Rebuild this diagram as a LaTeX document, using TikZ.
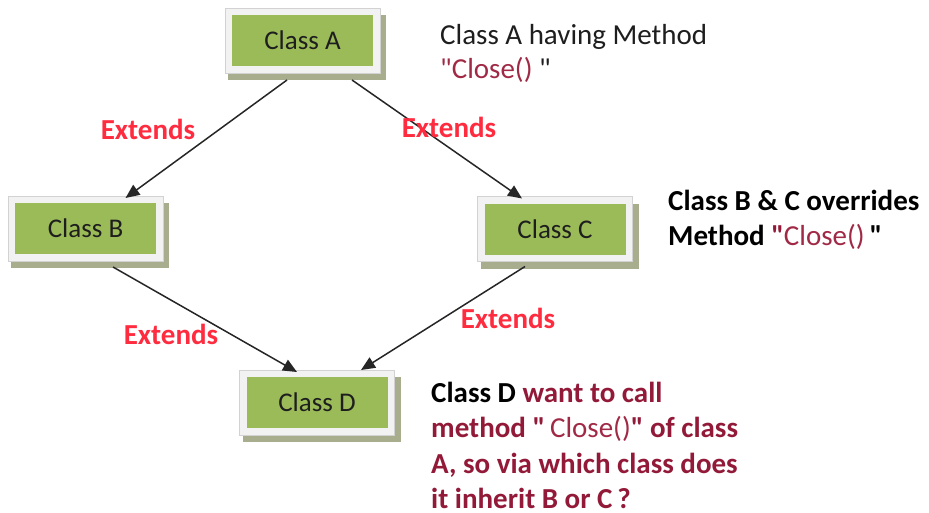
\documentclass[tikz,border=0pt]{standalone}
\usepackage{fontspec}
\setmainfont{Carlito}[Ligatures=TeXOff]
\usetikzlibrary{calc,backgrounds,arrows.meta}
\definecolor{boxgreen}{HTML}{9BBB59}
\definecolor{boxrim}{HTML}{F2F2F2}
\definecolor{rimline}{HTML}{D2D2D2}
\definecolor{shadowc}{HTML}{A8AD8E}
\definecolor{extred}{HTML}{FF2B3F}
\definecolor{darkred}{HTML}{921A38}
\definecolor{closec}{HTML}{A02A46}
\definecolor{boxtext}{HTML}{1E1E1E}
\begin{document}
\begin{tikzpicture}[x=1pt,y=-1pt,
  classbox/.style={rectangle, fill=boxgreen, draw=boxrim, line width=7pt,
    minimum width=148pt, minimum height=58pt, inner sep=0pt,
    font=\fontsize{27}{32}\selectfont, text=boxtext},
  extlabel/.style={font=\bfseries\fontsize{29}{34}\selectfont, text=extred, inner sep=0pt},
  note/.style={anchor=north west, align=left, inner sep=0pt},
  inh/.style={draw=black!85, line width=1.5pt, -{Triangle[length=14pt,width=12pt]}}]
\useasboundingbox (0,0) rectangle (929,512);

\node[classbox] (A) at (302.5,40.5) {Class A};
\node[classbox] (B) at (85.5,228.5) {Class B};
\node[classbox] (C) at (555,229) {Class C};
\node[classbox] (D) at (317,402.5) {Class D};

\begin{scope}[on background layer]
  \foreach \n in {A,B,C,D}{
    \fill[shadowc] ($(\n.south west)+(3,7)$) rectangle ($(\n.north east)+(6,7)$);
  }
\end{scope}
\foreach \n in {A,B,C,D}{
  \draw[rimline, line width=0.6pt] (\n.south west) rectangle (\n.north east);
}

\draw[inh] ($(A.south)+(-15.5,7)$) -- ($(B.north)+(40,2)$);
\draw[inh] ($(A.south)+(49.5,7)$) -- ($(C.north)+(-33,2)$);
\draw[inh] ($(B.south)+(27.5,6)$) -- ($(D.north)+(-20,2)$);
\draw[inh] ($(C.south)+(-30,5)$) -- ($(D.north)+(44,0)$);

\node[extlabel] (e1) at (148,129) {Extends};
\node[extlabel] (e2) at (449,127) {Extends};
\node[extlabel] (e3) at (171,334) {Extends};
\node[extlabel] (e4) at (508,318) {Extends};

\node[note, font=\fontsize{29}{34}\selectfont, text=boxtext] (nA) at (440,24)
  {Class A having Method\\{\color{closec}"Close()} "};
\node[note, font=\bfseries\fontsize{29}{35}\selectfont, text=black] (nBC) at (668,190)
  {Class B \& C overrides\\Method {\color{darkred}"}{\mdseries\color{closec}Close()}\,"};
\node[note, font=\bfseries\fontsize{29}{35.3}\selectfont, text=darkred] (nD) at (431,382)
  {{\color{black}Class D} want to call\\method "\,{\mdseries\color{closec}Close()}" of class\\A, so via which class does\\it inherit B or C\,?};
\end{tikzpicture}
\end{document}
